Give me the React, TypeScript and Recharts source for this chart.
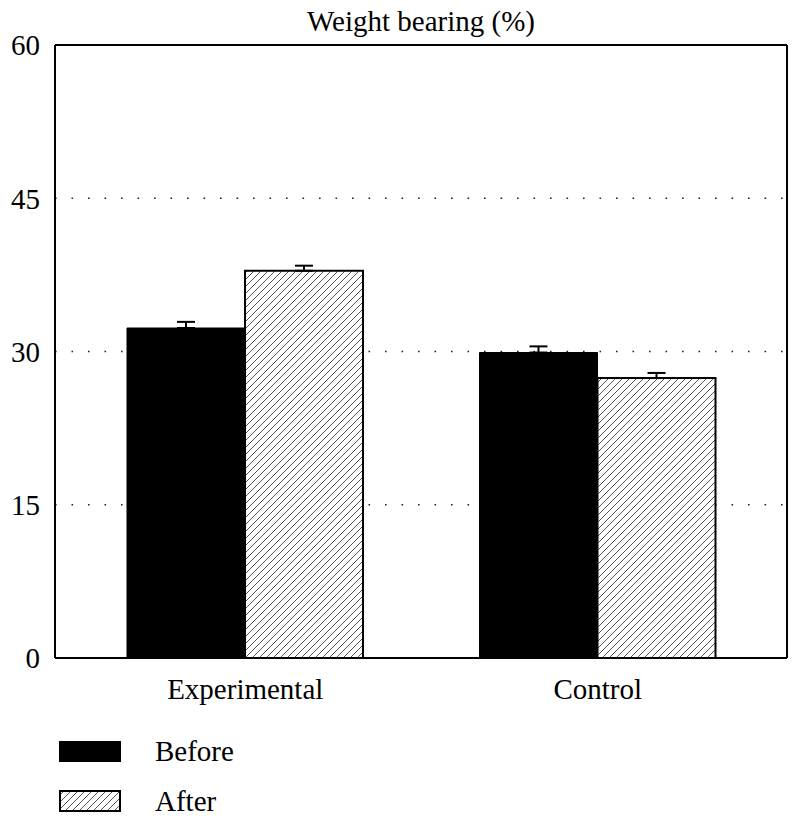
import React from "react";
import {
  BarChart,
  Bar,
  XAxis,
  YAxis,
  CartesianGrid,
  ErrorBar,
} from "recharts";

const categories = ["Experimental", "Control"];
const beforeValues = [32.3, 29.9];
const afterValues = [37.9, 27.4];
const beforeErrors = [0.6, 0.6];
const afterErrors = [0.5, 0.5];
const yTicks = [0, 15, 30, 45, 60];
const title = "Weight bearing (%)";
const seriesNames = ["Before", "After"];

const data = categories.map((c, i) => ({
  name: c,
  before: beforeValues[i],
  after: afterValues[i],
  beforeErr: [0, beforeErrors[i]],
  afterErr: [0, afterErrors[i]],
}));

const FONT = '"Liberation Serif", "DejaVu Serif", serif';
const FS = 29;

export default function App() {
  return (
    <div style={{ position: "absolute", left: 0, top: 0, width: 800, height: 822, background: "#fff" }}>
      <div
        style={{
          position: "absolute",
          left: 55,
          width: 732,
          top: 4,
          textAlign: "center",
          fontFamily: FONT,
          fontSize: FS,
          color: "#000",
          lineHeight: "34px",
        }}
      >
        {title}
      </div>
      <BarChart
        width={800}
        height={822}
        data={data}
        margin={{ top: 44, right: 12, left: 0, bottom: 124 }}
        barCategoryGap={58}
        barGap={0}
      >
        <defs>
          <pattern id="hatch" patternUnits="userSpaceOnUse" width="7" height="7">
            <rect width="7" height="7" fill="#fff" />
            <path d="M-1,1 L1,-1 M0,7 L7,0 M6,8 L8,6" stroke="#555" strokeWidth="1" />
          </pattern>
        </defs>
        <CartesianGrid
          horizontal={true}
          vertical={false}
          stroke="#222"
          strokeWidth={1.6}
          strokeDasharray="1.6 14.9"
          yAxisId="main"
          xAxisId="main"
        />
        <XAxis
          dataKey="name"
          xAxisId="main"
          height={40}
          padding={{ left: 14, right: 13 }}
          axisLine={{ stroke: "#000", strokeWidth: 2 }}
          tickLine={false}
          tickSize={0}
          tickMargin={20}
          tick={{ fill: "#000", fontSize: FS, fontFamily: FONT }}
          interval={0}
        />
        <XAxis
          dataKey="name"
          xAxisId="top"
          orientation="top"
          height={1}
          tick={false}
          tickLine={false}
          axisLine={{ stroke: "#000", strokeWidth: 2 }}
        />
        <YAxis
          yAxisId="main"
          width={55}
          domain={[0, 60]}
          ticks={yTicks}
          interval={0}
          axisLine={{ stroke: "#000", strokeWidth: 2 }}
          tickLine={false}
          tickSize={0}
          tickMargin={15}
          tick={{ fill: "#000", fontSize: FS, fontFamily: FONT }}
        />
        <YAxis
          yAxisId="right"
          orientation="right"
          width={1}
          domain={[0, 60]}
          tick={false}
          tickLine={false}
          axisLine={{ stroke: "#000", strokeWidth: 2 }}
        />
        <Bar
          dataKey="before"
          xAxisId="top"
          yAxisId="right"
          fill="none"
          stroke="none"
          legendType="none"
          isAnimationActive={false}
        />
        <Bar
          dataKey="before"
          xAxisId="main"
          yAxisId="main"
          fill="#000"
          stroke="#000"
          strokeWidth={1}
          isAnimationActive={false}
        >
          <ErrorBar dataKey="beforeErr" width={9} stroke="#000" strokeWidth={2} direction="y" />
        </Bar>
        <Bar
          dataKey="after"
          xAxisId="main"
          yAxisId="main"
          fill="url(#hatch)"
          stroke="#000"
          strokeWidth={2}
          isAnimationActive={false}
        >
          <ErrorBar dataKey="afterErr" width={9} stroke="#000" strokeWidth={2} direction="y" />
        </Bar>
      </BarChart>
      <svg
        width={800}
        height={100}
        style={{ position: "absolute", left: 0, top: 722 }}
      >
        <defs>
          <pattern id="hatchLegend" patternUnits="userSpaceOnUse" width="7" height="7">
            <rect width="7" height="7" fill="#fff" />
            <path d="M-1,1 L1,-1 M0,7 L7,0 M6,8 L8,6" stroke="#555" strokeWidth="1" />
          </pattern>
        </defs>
        <rect x={59} y={19} width={62} height={21} fill="#000" />
        <text x={155} y={39} fontFamily={FONT} fontSize={FS} fill="#000">
          {seriesNames[0]}
        </text>
        <rect x={60} y={69} width={60} height={20} fill="url(#hatchLegend)" stroke="#000" strokeWidth={2} />
        <text x={155} y={89} fontFamily={FONT} fontSize={FS} fill="#000">
          {seriesNames[1]}
        </text>
      </svg>
    </div>
  );
}
